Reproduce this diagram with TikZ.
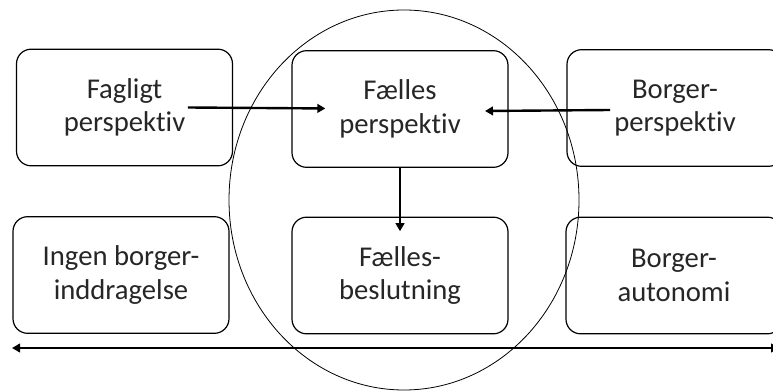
\documentclass[tikz,border=0pt]{standalone}
\usepackage{fontspec}
\setmainfont{Carlito}[Ligatures={NoCommon, NoRare}, Contextuals={NoAlternate}]
\usetikzlibrary{arrows.meta}
\definecolor{tekst}{HTML}{262626}

\begin{document}
\begin{tikzpicture}[x=0.75pt, y=-0.75pt, every node/.style={draw, rounded corners=11pt, minimum width=162pt, minimum height=87.5pt, align=center, text=tekst, line width=0.9pt, font=\fontsize{21.5}{25}\selectfont}, pil/.style={-{Triangle[length=6pt, width=6.5pt]}, line width=1.8pt}]
  \useasboundingbox (0,0) rectangle (773,391);
  \draw[line width=0.6pt] (404,200) ellipse [x radius=131.25pt, y radius=142.5pt];
  \node (fag) at (124.5,107.5) {Fagligt\\perspektiv};
  \node (faelles) at (400,109) {Fælles\\perspektiv};
  \node (borgp) at (675,108) {Borger-\\perspektiv};
  \node (ingen) at (121,275) {Ingen borger-\\inddragelse};
  \node (beslut) at (400,275.5) {Fælles-\\beslutning};
  \node (auto) at (674,275.5) {Borger-\\autonomi};
  \coordinate (venstre) at (12,348);
  \coordinate (hoejre) at (779,348);
  \draw[pil] ([xshift=47.6pt]fag.center) -- ([xshift=-56pt, yshift=0.4pt]faelles.center);
  \draw[pil] ([xshift=-48.75pt, yshift=-1.5pt]borgp.center) -- ([xshift=63.75pt, yshift=-1.5pt]faelles.center);
  \draw[pil] (faelles.south) -- ([yshift=-11pt]beslut.north);
  \draw[pil, {Triangle[length=6pt, width=6.5pt]}-{Triangle[length=6pt, width=6.5pt]}] (venstre) -- (hoejre);
\end{tikzpicture}
\end{document}
